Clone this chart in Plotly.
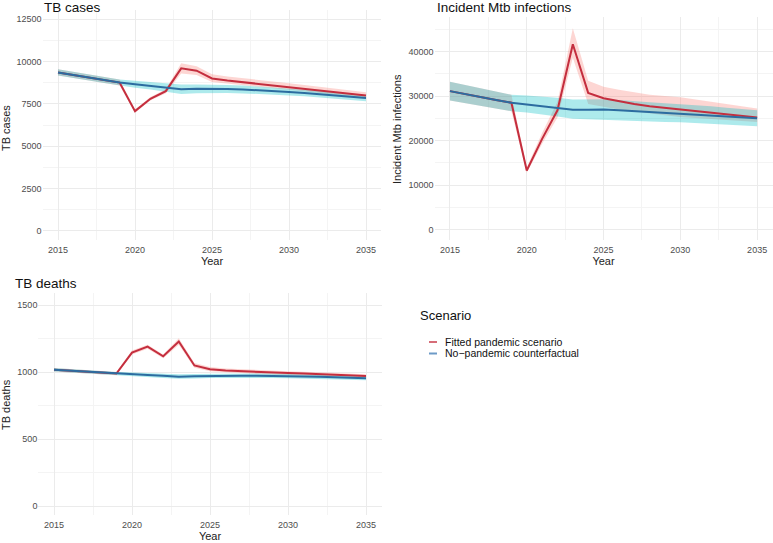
import plotly.graph_objects as go

years = list(range(2015, 2036))

# ---- TB cases ----
cases_cf = [9360, 9210, 9050, 8900, 8760, 8660, 8570, 8480, 8360, 8390, 8400,
            8380, 8350, 8310, 8260, 8200, 8140, 8070, 8000, 7920, 7840]
cases_cf_lo = [9180, 9040, 8880, 8730, 8580, 8460, 8350, 8230, 8090, 8130, 8150,
               8140, 8120, 8090, 8050, 8000, 7950, 7880, 7810, 7740, 7660]
cases_cf_hi = [9540, 9380, 9220, 9070, 8940, 8870, 8800, 8730, 8640, 8650, 8650,
               8620, 8580, 8530, 8470, 8410, 8340, 8270, 8190, 8100, 8020]
cases_fit = [9360, 9210, 9050, 8900, 8760, 7070, 7800, 8250, 9600, 9460, 9000,
             8880, 8780, 8690, 8600, 8510, 8420, 8320, 8220, 8110, 7990]
cases_fit_lo = [9180, 9040, 8880, 8730, 8580, 6980, 7700, 8130, 9300, 9200, 8800,
                8690, 8600, 8510, 8420, 8330, 8240, 8140, 8040, 7930, 7810]
cases_fit_hi = [9540, 9380, 9220, 9070, 8940, 7170, 7900, 8370, 9900, 9720, 9250,
                9120, 9010, 8910, 8810, 8720, 8620, 8520, 8410, 8300, 8180]

# ---- Incident Mtb infections ----
inf_cf = [31100, 30400, 29700, 29100, 28500, 28100, 27700, 27300, 26900, 26950, 27000,
          26800, 26600, 26450, 26300, 26150, 25950, 25750, 25500, 25250, 25000]
inf_cf_lo = [29000, 28400, 27800, 27200, 26600, 26300, 25900, 25400, 24900, 24800, 24600,
             24500, 24400, 24300, 24200, 24100, 23950, 23800, 23600, 23400, 23200]
inf_cf_hi = [33200, 32500, 31700, 31000, 30300, 30100, 29900, 29600, 29200, 29250, 29300,
             29100, 28800, 28600, 28400, 28200, 27950, 27700, 27400, 27100, 26800]
inf_fit = [31100, 30400, 29700, 29100, 28500, 13300, 20400, 26800, 41600, 30700, 29500,
           28800, 28200, 27700, 27350, 27050, 26700, 26350, 26000, 25600, 25200]
inf_fit_lo = [29000, 28400, 27800, 27200, 26600, 12800, 19300, 25200, 38600, 28200, 27600,
              27000, 26500, 26100, 25700, 25300, 25000, 24800, 24600, 24400, 24200]
inf_fit_hi = [33200, 32500, 31700, 31000, 30300, 14000, 21700, 28700, 45200, 33400, 32100,
              31400, 30800, 30300, 30000, 29700, 29200, 28700, 28200, 27700, 27200]

# ---- TB deaths ----
dth_cf = [1017, 1010, 1002, 996, 990, 984, 979, 973, 966, 969, 972,
          973, 974, 974, 973, 971, 968, 965, 962, 958, 954]
dth_cf_lo = [1004, 998, 991, 985, 979, 970, 964, 957, 950, 953, 956,
             957, 958, 958, 957, 955, 953, 950, 947, 943, 939]
dth_cf_hi = [1030, 1022, 1013, 1007, 1001, 998, 994, 990, 985, 987, 989,
             989, 990, 990, 989, 987, 984, 981, 977, 973, 969]
dth_fit = [1017, 1010, 1002, 996, 990, 1146, 1190, 1118, 1228, 1050, 1022,
           1012, 1006, 1001, 997, 993, 989, 985, 980, 976, 971]
dth_fit_lo = [1004, 998, 991, 985, 979, 1132, 1175, 1104, 1205, 1032, 1006,
              997, 992, 987, 983, 979, 975, 971, 967, 963, 958]
dth_fit_hi = [1030, 1022, 1013, 1007, 1001, 1162, 1205, 1132, 1252, 1068, 1038,
              1027, 1021, 1016, 1011, 1007, 1003, 999, 994, 990, 985]

scenarios = ["Fitted pandemic scenario", "No\u2212pandemic counterfactual"]
panel_titles = ["TB cases", "Incident Mtb infections", "TB deaths"]
y_titles = ["TB cases", "Incident Mtb infections", "TB deaths"]

RED = "#C42E3E"
BLUE = "#2C6CA0"
RED_FILL = "rgba(248,118,109,0.30)"
CYAN_FILL = "rgba(0,191,196,0.32)"
FONT = "Liberation Sans, Arial, sans-serif"

W, H = 773, 543

fig = go.Figure()

panels = [
    ("x", "y", cases_fit, cases_fit_lo, cases_fit_hi, cases_cf, cases_cf_lo, cases_cf_hi),
    ("x2", "y2", inf_fit, inf_fit_lo, inf_fit_hi, inf_cf, inf_cf_lo, inf_cf_hi),
    ("x3", "y3", dth_fit, dth_fit_lo, dth_fit_hi, dth_cf, dth_cf_lo, dth_cf_hi),
]

for xa, ya, fit, flo, fhi, cf, clo, chi in panels:
    fig.add_trace(go.Scatter(x=years + years[::-1], y=fhi + flo[::-1], fill="toself",
                             fillcolor=RED_FILL, line=dict(width=0), mode="lines",
                             hoverinfo="skip", showlegend=False, xaxis=xa, yaxis=ya))
    fig.add_trace(go.Scatter(x=years + years[::-1], y=chi + clo[::-1], fill="toself",
                             fillcolor=CYAN_FILL, line=dict(width=0), mode="lines",
                             hoverinfo="skip", showlegend=False, xaxis=xa, yaxis=ya))
    fig.add_trace(go.Scatter(x=years, y=fit, mode="lines", name=scenarios[0],
                             line=dict(color=RED, width=2), showlegend=False,
                             xaxis=xa, yaxis=ya))
    fig.add_trace(go.Scatter(x=years, y=cf, mode="lines", name=scenarios[1],
                             line=dict(color=BLUE, width=2), showlegend=False,
                             xaxis=xa, yaxis=ya))

def px_x(p):
    return p / W

def px_y(p):
    return 1 - p / H

grid_major = "#EBEBEB"
grid_minor = "#F4F4F4"
tickfont = dict(family=FONT, size=9, color="#4D4D4D")

def xaxis_cfg(dom, anchor):
    return dict(domain=dom, anchor=anchor, range=[2014, 2036], tickvals=[2015, 2020, 2025, 2030, 2035],
                tickformat="d", ticklabelstandoff=3,
                showgrid=True, gridcolor=grid_major, gridwidth=1, zeroline=False, showline=False,
                ticks="", tickfont=tickfont, automargin=False,
                minor=dict(tickvals=[2017.5, 2022.5, 2027.5, 2032.5], showgrid=True,
                           gridcolor=grid_minor, gridwidth=1),
                title=dict(text="Year", font=dict(family=FONT, size=11, color="#222222"), standoff=1))

def yaxis_cfg(dom, anchor, rng, tv, minor_tv):
    return dict(domain=dom, anchor=anchor, range=rng, tickvals=tv, tickformat="d", showgrid=True,
                gridcolor=grid_major, gridwidth=1, zeroline=False, showline=False, ticks="",
                tickfont=tickfont, automargin=False,
                minor=dict(tickvals=minor_tv, showgrid=True, gridcolor=grid_minor, gridwidth=1))

fig.update_layout(
    width=W, height=H, margin=dict(l=0, r=0, t=0, b=0),
    paper_bgcolor="white", plot_bgcolor="white",
    font=dict(family=FONT, color="#222222"),
    showlegend=False,
    xaxis=xaxis_cfg([px_x(42.6), px_x(381.4)], "y"),
    yaxis=yaxis_cfg([px_y(240), px_y(10)], "x", [-550, 13050],
                    [0, 2500, 5000, 7500, 10000, 12500], [1250, 3750, 6250, 8750, 11250]),
    xaxis2=xaxis_cfg([px_x(434.6), px_x(772.5)], "y2"),
    yaxis2=yaxis_cfg([px_y(240), px_y(17.2)], "x2", [-2270, 47670],
                     [0, 10000, 20000, 30000, 40000], [5000, 15000, 25000, 35000, 45000]),
    xaxis3=xaxis_cfg([px_x(38.4), px_x(381.6)], "y3"),
    yaxis3=yaxis_cfg([px_y(515), px_y(293)], "x3", [-65, 1590],
                     [0, 500, 1000, 1500], [250, 750, 1250]),
)

annots = []
# panel titles
for txt, x, y in [(panel_titles[0], 42, 8), (panel_titles[1], 435, 8), (panel_titles[2], 13, 283)]:
    annots.append(dict(text=txt, x=px_x(x), y=px_y(y), xref="paper", yref="paper",
                       xanchor="left", yanchor="middle", showarrow=False,
                       font=dict(family=FONT, size=13.5, color="#111111")))
# y axis titles
for txt, x, y in [(y_titles[0], 6, 128), (y_titles[1], 397, 129), (y_titles[2], 6, 405)]:
    annots.append(dict(text=txt, x=px_x(x), y=px_y(y), xref="paper", yref="paper",
                       xanchor="center", yanchor="middle", textangle=-90, showarrow=False,
                       font=dict(family=FONT, size=11, color="#222222")))
# legend
annots.append(dict(text="Scenario", x=px_x(418), y=px_y(315), xref="paper", yref="paper",
                   xanchor="left", yanchor="middle", showarrow=False,
                   font=dict(family=FONT, size=13, color="#111111")))
shapes = []
for i, (name, col) in enumerate(zip(scenarios, ["rgba(200,60,75,0.75)", "rgba(60,120,180,0.75)"])):
    yy = 342 + i * 11.5
    annots.append(dict(text=name, x=px_x(443), y=px_y(yy), xref="paper", yref="paper",
                       xanchor="left", yanchor="middle", showarrow=False,
                       font=dict(family=FONT, size=10.5, color="#111111")))
    shapes.append(dict(type="line", xref="paper", yref="paper", x0=px_x(429), x1=px_x(437),
                       y0=px_y(yy), y1=px_y(yy), line=dict(color=col, width=2)))

fig.update_layout(annotations=annots, shapes=shapes)

fig.write_html("out.html", config={"displayModeBar": False},
               post_script="document.body.style.margin='0';document.body.style.overflow='hidden';")
